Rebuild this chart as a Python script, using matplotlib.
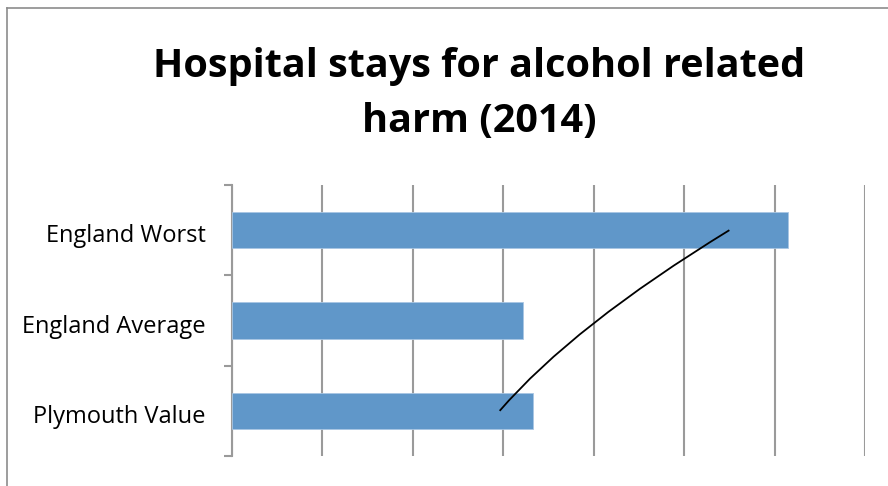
import matplotlib
matplotlib.use("Agg")
import matplotlib.pyplot as plt
import matplotlib.transforms as mtransforms
from matplotlib.path import Path
from matplotlib.patches import PathPatch
from matplotlib.lines import Line2D

# data (grid units, one per gridline)
categories = ["Plymouth Value", "England Average", "England Worst"]
values = [3.33, 3.22, 6.15]

# hand-drawn annotation stroke (data coords: start, control, end)
stroke_pts = [(2.96, 0.0), (3.77, 0.94), (5.5, 2.0)]

fig = plt.figure(figsize=(8.88, 4.86), dpi=100)
ax = fig.add_axes([232 / 888, 1 - 456 / 486, (865 - 232) / 888, (456 - 185) / 486])

bar_color = "#6097c9"
grid_color = "#9a9a9a"

ax.barh(range(len(categories)), values, height=0.4, color=bar_color,
        edgecolor="#a9c6e3", linewidth=0.6, zorder=3)

ax.set_xlim(0, 7)
ax.set_ylim(-0.5, len(categories) - 0.5)
ax.set_xticks(range(0, 8))
ax.set_xticklabels([])
ax.tick_params(axis="x", length=0)
ax.grid(axis="x", color=grid_color, linewidth=1.5, zorder=0)

# category labels between the boundary ticks
ax.set_yticks(range(len(categories)))
ax.set_yticklabels(categories, fontsize=17, family="Open Sans")
ax.tick_params(axis="y", which="major", length=0, pad=19)
shift = mtransforms.ScaledTranslation(0, -3 / 100, fig.dpi_scale_trans)
for lbl in ax.get_yticklabels():
    lbl.set_transform(lbl.get_transform() + shift)
ax.set_yticks([i - 0.5 for i in range(len(categories) + 1)], minor=True)
ax.tick_params(axis="y", which="minor", length=6, width=1.5, color=grid_color)

for side in ["top", "right", "bottom"]:
    ax.spines[side].set_visible(False)
ax.spines["left"].set_color(grid_color)
ax.spines["left"].set_linewidth(1.5)

# annotation line
path = Path(stroke_pts, [Path.MOVETO, Path.CURVE3, Path.CURVE3])
ax.add_patch(PathPatch(path, facecolor="none", edgecolor="black", linewidth=1.3, zorder=5))

fig.text(479 / 888, 1 - 94 / 486, "Hospital stays for alcohol related\nharm (2014)",
         ha="center", va="center", fontsize=28.5, fontweight="bold",
         family="Open Sans", linespacing=1.5)

# chart frame (left and top edges visible)
fig.add_artist(Line2D([7 / 888, 7 / 888], [0, 1 - 8 / 486], color="#8c8c8c", linewidth=1.2))
fig.add_artist(Line2D([7 / 888, 1], [1 - 8 / 486, 1 - 8 / 486], color="#8c8c8c", linewidth=1.2))

fig.savefig("out.png", dpi=100)
